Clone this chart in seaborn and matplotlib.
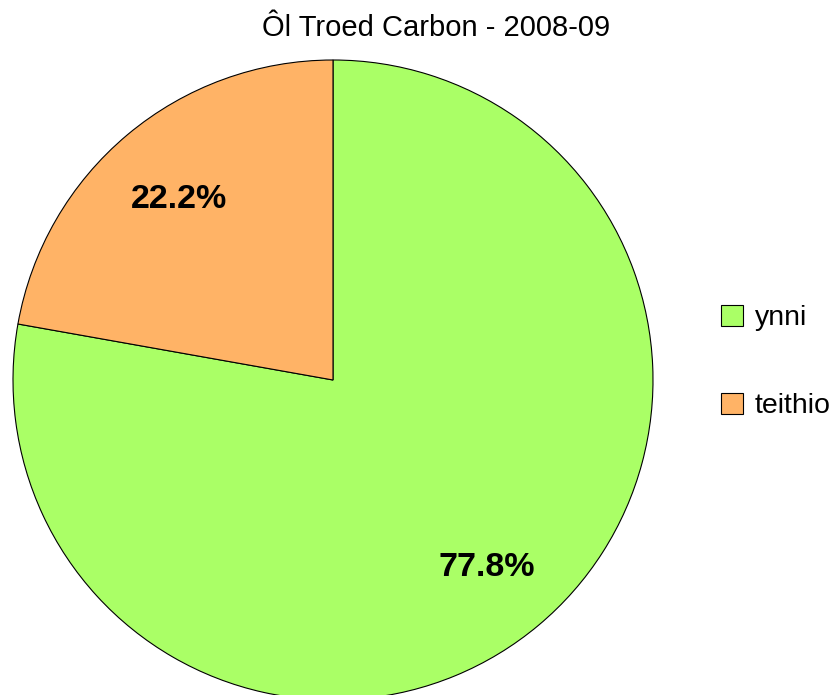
import matplotlib
matplotlib.use("Agg")
import matplotlib.pyplot as plt
import seaborn as sns

# Data
categories = ["ynni", "teithio"]
shares = [77.8, 22.2]
colours = ["#aaff66", "#ffb366"]
title = "Ôl Troed Carbon - 2008-09"

sns.set_style("white")
plt.rcParams["font.family"] = ["Liberation Sans", "DejaVu Sans"]

fig = plt.figure(figsize=(8.35, 6.95), dpi=100)
ax = fig.add_axes([13 / 835, -5 / 695, 640 / 835, 640 / 695])

wedges, texts, autotexts = ax.pie(
    shares,
    colors=colours,
    startangle=90,
    counterclock=False,
    autopct="%.1f%%",
    pctdistance=0.75,
    wedgeprops=dict(edgecolor="black", linewidth=0.8),
    textprops=dict(fontsize=24.5, fontweight="bold", color="black"),
)
for t in autotexts:
    t.set_va("center_baseline")
ax.set_xlim(-1, 1)
ax.set_ylim(-1, 1)
ax.set_aspect("equal")
ax.axis("off")

fig.text(436 / 835, 1 - 28 / 695, title, ha="center", va="center",
         fontsize=21, color="black")

# legend squares ~22px, rows ~88px apart
fs = 20.5
fig.legend(
    wedges, categories,
    loc="center left",
    bbox_to_anchor=(721 / 835, 1 - 362 / 695),
    frameon=False,
    fontsize=fs,
    labelcolor="black",
    borderpad=0,
    borderaxespad=0,
    handlelength=22 / (fs * 100 / 72),
    handleheight=22 / (fs * 100 / 72),
    handletextpad=0.42,
    labelspacing=2.15,
)

fig.savefig("out.png", dpi=100)
